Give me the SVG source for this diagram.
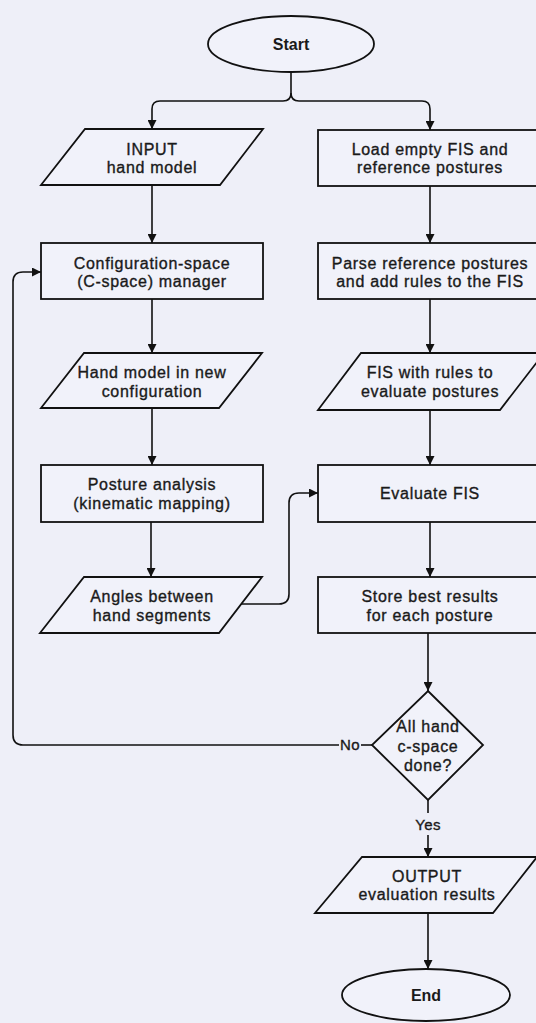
<svg xmlns="http://www.w3.org/2000/svg" width="536" height="1023" viewBox="0 0 536 1023">
<defs>
<marker id="arr" viewBox="0 0 10 10" refX="10" refY="5" markerWidth="9" markerHeight="9" markerUnits="userSpaceOnUse" orient="auto">
<path d="M0,0 L10,5 L0,10 z" fill="#111"/>
</marker>
<style>
.s{fill:#f1f2fa;stroke:#111;stroke-width:1.8}
.t{font-family:"Liberation Sans",Arial,sans-serif;font-size:16px;fill:#1a1a1a;text-anchor:middle;letter-spacing:0.7px;stroke:#1a1a1a;stroke-width:0.35}
.b{font-weight:bold;letter-spacing:0;stroke:none}
.c{fill:none;stroke:#111;stroke-width:1.6}
.l{font-family:"Liberation Sans",Arial,sans-serif;font-size:15px;fill:#1a1a1a;text-anchor:middle;stroke:#1a1a1a;stroke-width:0.35;letter-spacing:0.3px}
</style>
</defs>
<rect width="536" height="1023" fill="#eeeff8"/>
<g id="connectors">
<path class="c" d="M291,72 V93 Q291,101 283,101 H160 Q152,101 152,109 V129" marker-end="url(#arr)"/>
<path class="c" d="M291,93 Q291,101 299,101 H422 Q430,101 430,109 V130" marker-end="url(#arr)"/>
<path class="c" d="M152,185 V243" marker-end="url(#arr)"/>
<path class="c" d="M152,299 V353" marker-end="url(#arr)"/>
<path class="c" d="M152,408 V465" marker-end="url(#arr)"/>
<path class="c" d="M151,522 V577" marker-end="url(#arr)"/>
<path class="c" d="M241,604 H279 Q289,604 289,594 V503 Q289,493 299,493 H318" marker-end="url(#arr)"/>
<path class="c" d="M430,186 V243" marker-end="url(#arr)"/>
<path class="c" d="M430,299 V353" marker-end="url(#arr)"/>
<path class="c" d="M430,410 V465" marker-end="url(#arr)"/>
<path class="c" d="M430,522 V577" marker-end="url(#arr)"/>
<path class="c" d="M428,633 V691" marker-end="url(#arr)"/>
<path class="c" d="M428,800 V813"/>
<path class="c" d="M428,835 V857" marker-end="url(#arr)"/>
<path class="c" d="M428,913 V969" marker-end="url(#arr)"/>
<path class="c" d="M372,745 H361"/>
<path class="c" d="M339,745 H23 Q13,745 13,735 V282 Q13,272 23,272 H41" marker-end="url(#arr)"/>
<text class="l" x="350" y="750">No</text>
<text class="l" x="428" y="830">Yes</text>
</g>
<g id="start">
<ellipse class="s" cx="291" cy="44" rx="83" ry="28"/>
<text class="t b" x="291" y="50">Start</text>
</g>
<g id="input">
<polygon class="s" points="85,129 263,129 220,185 41,185"/>
<text class="t" x="152" y="155">INPUT</text>
<text class="t" x="152" y="173">hand model</text>
</g>
<g id="cspace">
<rect class="s" x="41" y="243" width="222" height="56"/>
<text class="t" x="152" y="269">Configuration-space</text>
<text class="t" x="152" y="287">(C-space) manager</text>
</g>
<g id="handnew">
<polygon class="s" points="84,353 262,353 219,408 41,408"/>
<text class="t" x="152" y="378">Hand model in new</text>
<text class="t" x="152" y="397">configuration</text>
</g>
<g id="posture">
<rect class="s" x="41" y="465" width="222" height="57"/>
<text class="t" x="152" y="490">Posture analysis</text>
<text class="t" x="152" y="509">(kinematic mapping)</text>
</g>
<g id="angles">
<polygon class="s" points="84,577 262,577 219,633 40,633"/>
<text class="t" x="152" y="602">Angles between</text>
<text class="t" x="152" y="621">hand segments</text>
</g>
<g id="load">
<rect class="s" x="318" y="130" width="224" height="56"/>
<text class="t" x="430" y="155">Load empty FIS and</text>
<text class="t" x="430" y="173">reference postures</text>
</g>
<g id="parse">
<rect class="s" x="318" y="243" width="224" height="56"/>
<text class="t" x="430" y="269">Parse reference postures</text>
<text class="t" x="430" y="287">and add rules to the FIS</text>
</g>
<g id="fisrules">
<polygon class="s" points="361,353 544,353 500,410 318,410"/>
<text class="t" x="430" y="378">FIS with rules to</text>
<text class="t" x="430" y="397">evaluate postures</text>
</g>
<g id="evaluate">
<rect class="s" x="318" y="465" width="224" height="57"/>
<text class="t" x="430" y="499">Evaluate FIS</text>
</g>
<g id="store">
<rect class="s" x="318" y="577" width="224" height="56"/>
<text class="t" x="430" y="602">Store best results</text>
<text class="t" x="430" y="621">for each posture</text>
</g>
<g id="decision">
<polygon class="s" points="428,691 483,745 428,800 372,745"/>
<text class="t" x="428" y="732">All hand</text>
<text class="t" x="428" y="752">c-space</text>
<text class="t" x="428" y="771">done?</text>
</g>
<g id="output">
<polygon class="s" points="362,857 537,857 493,913 315,913"/>
<text class="t" x="427" y="882">OUTPUT</text>
<text class="t" x="427" y="900">evaluation results</text>
</g>
<g id="end">
<ellipse class="s" cx="426" cy="995" rx="84" ry="26"/>
<text class="t b" x="426" y="1001">End</text>
</g>
</svg>
